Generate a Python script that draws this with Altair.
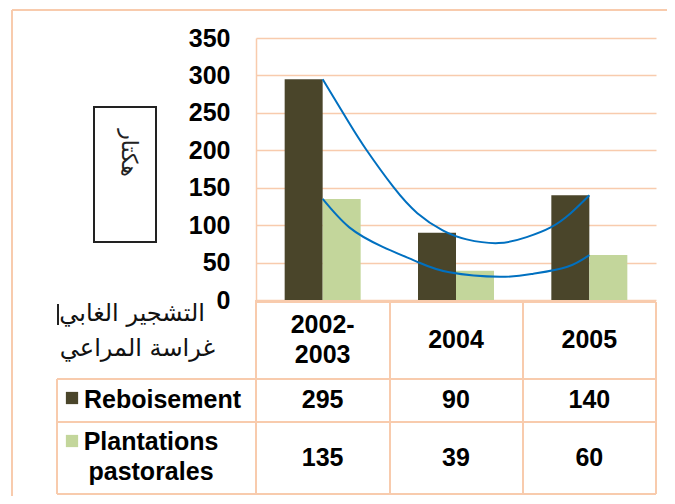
import altair as alt
import pandas as pd

# ---------------- data ----------------
categories = ["2002-2003", "2004", "2005"]
category_labels = ["2002-\n2003", "2004", "2005"]
series_names = ["Reboisement", "Plantations pastorales"]
series_labels = ["Reboisement", "Plantations\npastorales"]
reboisement = [295, 90, 140]
plantations = [135, 39, 60]
y_ticks = [0, 50, 100, 150, 200, 250, 300, 350]

# hand-drawn trend curves (position in category units, 0 = first category)
upper_pos = [0, 0.20, 0.33, 0.53, 0.71, 0.90, 1.08, 1.32, 1.53, 1.71, 1.86, 2.0]
upper_val = [295, 236, 200, 151, 116, 93, 81, 76, 84, 97, 116, 140]
lower_pos = [0, 0.20, 0.45, 0.71, 0.95, 1.33, 1.58, 1.83, 2.0]
lower_val = [135, 97, 71, 51, 37, 31, 35, 44, 60]

unit_label = "هكتار"
arabic_legend = ["التشجير الغابي", "غراسة المراعي"]

# ---------------- styles ----------------
DARK = "#4A452A"
LIGHT = "#C3D69B"
PEACH = "#F8CBAD"
BLUE = "#0070C0"
NUM_FONT = "Liberation Sans"
AR_FONT = "DejaVu Sans"
FS = 25

W, H = 400, 262

bars_df = pd.DataFrame(
    [{"cat": c, "series": series_names[0], "value": v} for c, v in zip(categories, reboisement)]
    + [{"cat": c, "series": series_names[1], "value": v} for c, v in zip(categories, plantations)]
)
curves_df = pd.DataFrame(
    [{"curve": "up", "pos": p, "val": v} for p, v in zip(upper_pos, upper_val)]
    + [{"curve": "low", "pos": p, "val": v} for p, v in zip(lower_pos, lower_val)]
)
cat_df = pd.DataFrame({"cat": categories, "label": category_labels})
reb_df = pd.DataFrame({"cat": categories, "v": reboisement})
pla_df = pd.DataFrame({"cat": categories, "v": plantations})
leg1 = pd.DataFrame({"series": [series_names[0]], "label": [series_labels[0]]})
leg2 = pd.DataFrame({"series": [series_names[1]], "label": [series_labels[1]]})

x_scale = alt.Scale(domain=categories, paddingInner=0.43, paddingOuter=0.215)
y_scale = alt.Scale(domain=[0, 350], nice=False)
color_scale = alt.Scale(domain=series_names, range=[DARK, LIGHT])
X = alt.X("cat:N", scale=x_scale, sort=categories, axis=None)


def y_axis():
    return alt.Axis(values=y_ticks, title=None, tickSize=0, labelPadding=26,
                    labelOverlap=False, labelFlush=False,
                    labelFont=NUM_FONT, labelFontSize=FS, labelFontWeight="bold",
                    labelColor="black", grid=True, gridColor=PEACH, gridWidth=1.5,
                    domainColor=PEACH, domainWidth=1.5)


bars = alt.Chart(bars_df).mark_bar().encode(
    x=X,
    xOffset=alt.XOffset("series:N", sort=series_names,
                        scale=alt.Scale(paddingInner=0, paddingOuter=0)),
    y=alt.Y("value:Q", scale=y_scale, axis=y_axis()),
    color=alt.Color("series:N", scale=color_scale, legend=None),
)

curves = alt.Chart(curves_df).mark_line(interpolate="natural", color=BLUE, strokeWidth=2).encode(
    x=alt.X("pos:Q", scale=alt.Scale(domain=[-0.5, 2.5], nice=False, zero=False), axis=None),
    y=alt.Y("val:Q", scale=y_scale, axis=y_axis()),
    detail="curve:N",
)

txt = dict(font=NUM_FONT, fontSize=FS, fontWeight="bold", color="black",
           baseline="middle", lineBreak="\n", lineHeight=30)

multi = "indexof(datum.label, '\\n') >= 0"
cat_text1 = alt.Chart(cat_df).transform_filter(multi).mark_text(**txt).encode(
    x=X, y=alt.value(287), text="label:N")
cat_text2 = alt.Chart(cat_df).transform_filter("!(" + multi + ")").mark_text(**txt).encode(
    x=X, y=alt.value(302), text="label:N")
reb_text = alt.Chart(reb_df).mark_text(**txt).encode(x=X, y=alt.value(362), text="v:Q")
pla_text = alt.Chart(pla_df).mark_text(**txt).encode(x=X, y=alt.value(420), text="v:Q")

leg_sq1 = alt.Chart(leg1).mark_square(size=150, opacity=1).encode(
    x=alt.value(-184), y=alt.value(360), color=alt.Color("series:N", scale=color_scale, legend=None))
leg_sq2 = alt.Chart(leg2).mark_square(size=150, opacity=1).encode(
    x=alt.value(-184), y=alt.value(403), color=alt.Color("series:N", scale=color_scale, legend=None))
leg_t1 = alt.Chart(leg1).mark_text(align="left", **txt).encode(
    x=alt.value(-172), y=alt.value(362), text="label:N")
leg_t2 = alt.Chart(leg2).mark_text(align="center", **txt).encode(
    x=alt.value(-105), y=alt.value(404), text="label:N")

ar_df1 = pd.DataFrame({"t": [arabic_legend[0]]})
ar_df2 = pd.DataFrame({"t": [arabic_legend[1]]})
ar_style = dict(font=AR_FONT, fontSize=24, color="#111111", align="right", baseline="middle")
ar1 = alt.Chart(ar_df1).mark_text(**ar_style).encode(x=alt.value(-51), y=alt.value(276), text="t:N")
ar2 = alt.Chart(ar_df2).mark_text(**ar_style).encode(x=alt.value(-41), y=alt.value(311), text="t:N")

unit_df = pd.DataFrame({"t": [unit_label]})
unit_box = alt.Chart(alt.Data(values=[{}])).mark_rect(fill="white", stroke="#222222", strokeWidth=2).encode(
    x=alt.value(-162), x2=alt.value(-100), y=alt.value(69), y2=alt.value(204))
unit_text = alt.Chart(unit_df).mark_text(font=AR_FONT, fontSize=22, color="#222222", angle=90,
                                         align="center", baseline="middle").encode(
    x=alt.value(-127), y=alt.value(115), text="t:N")


def rule(x1, x2, y1, y2, color=PEACH, w=2):
    return alt.Chart(alt.Data(values=[{}])).mark_rule(color=color, strokeWidth=w).encode(
        x=alt.value(x1), x2=alt.value(x2), y=alt.value(y1), y2=alt.value(y2))


rules = [
    rule(-244, 420, -28, -28),       # outer frame top
    rule(-244, -244, -28, 460),      # outer frame left
    rule(0, 400, 264, 264),          # table top
    rule(0, 0, 262, 456),
    rule(134, 134, 264, 456),
    rule(267, 267, 264, 456),
    rule(400, 400, 264, 456),
    rule(-199, 400, 341, 341),
    rule(-199, 400, 384, 384),
    rule(-199, 400, 456, 456),
    rule(-199, -199, 341, 456),
    rule(-198, -198, 266, 287, color="#222222", w=2),  # text cursor mark
]

chart = alt.layer(
    bars, curves, cat_text1, cat_text2, reb_text, pla_text,
    leg_sq1, leg_sq2, leg_t1, leg_t2, ar1, ar2, unit_box, unit_text, *rules,
).resolve_scale(x="independent").properties(
    width=W, height=H,
    autosize=alt.AutoSizeParams(type="none"),
    padding={"left": 248, "top": 30, "right": 11, "bottom": 196},
    background="white",
).configure_view(stroke=None)

chart.save("out.html", embed_options={"renderer": "svg", "actions": False})
